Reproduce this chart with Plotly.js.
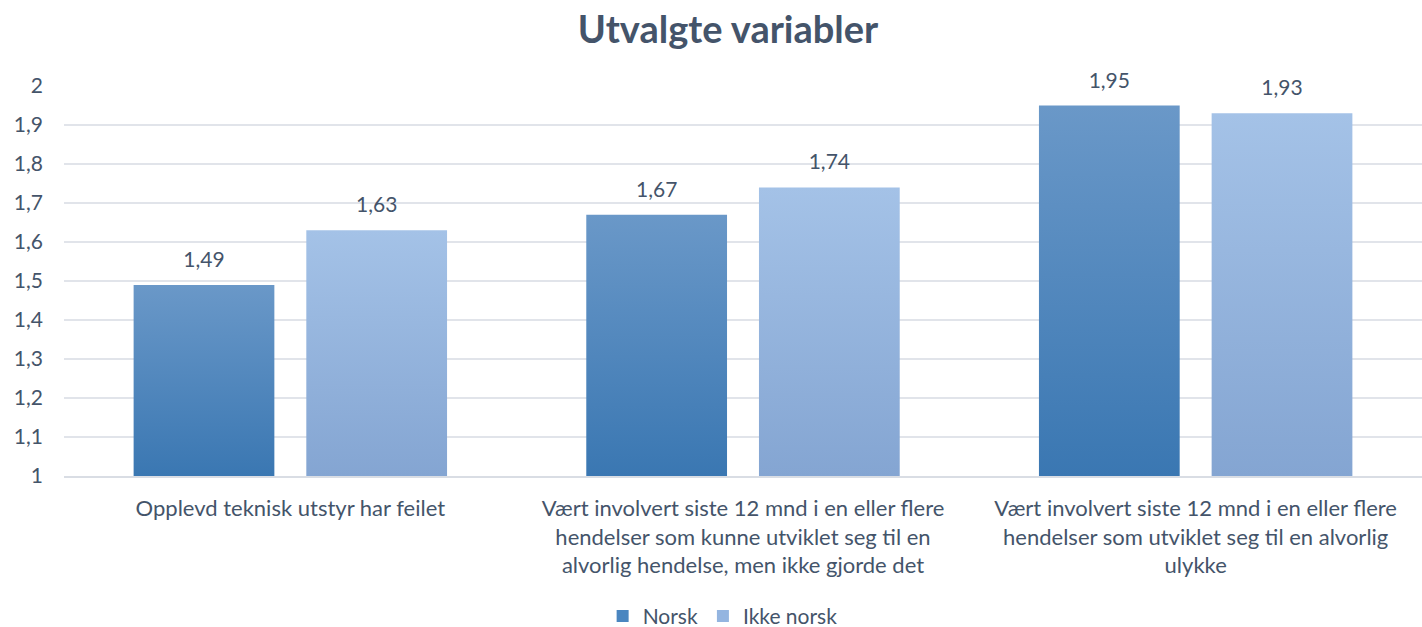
<!DOCTYPE html>
<html>
<head>
<meta charset="utf-8">
<script src="https://cdn.plot.ly/plotly-3.0.1.min.js"></script>
<style>html,body{margin:0;padding:0;background:#fff;}#chart{width:1422px;height:627px;}</style>
</head>
<body>
<div id="chart"></div>
<script>
const categories = [
  "Opplevd teknisk utstyr har feilet",
  "Vært involvert siste 12 mnd i en eller flere<br>hendelser som kunne utviklet seg til en<br>alvorlig hendelse, men ikke gjorde det",
  "Vært involvert siste 12 mnd i en eller flere<br>hendelser som utviklet seg til en alvorlig<br>ulykke"
];
const norsk = [1.49, 1.67, 1.95];
const ikkeNorsk = [1.63, 1.74, 1.93];
const seriesNames = ["Norsk", "Ikke norsk"];

const txt = "#44546A";
const fam = "Lato, 'Open Sans', sans-serif";

const traces = [
  {type: "bar", name: seriesNames[0], x: categories, y: norsk,
   marker: {color: "#4A86C0"}, texttemplate: "%{y:.2f}", textposition: "outside",
   textfont: {size: 21, color: txt}, cliponaxis: false, hoverinfo: "none"},
  {type: "bar", name: seriesNames[1], x: categories, y: ikkeNorsk,
   marker: {color: "#94B5E0"}, texttemplate: "%{y:.2f}", textposition: "outside",
   textfont: {size: 21, color: txt}, cliponaxis: false, hoverinfo: "none"}
];

const layout = {
  width: 1422, height: 627,
  margin: {l: 64, r: 0, t: 86, b: 151, autoexpand: false},
  separators: ", ",
  paper_bgcolor: "#fff", plot_bgcolor: "#fff",
  font: {family: fam, color: txt, size: 21},
  title: {text: "<b>Utvalgte variabler</b>", x: 0.512, xanchor: "center", y: 0.952, yanchor: "middle",
          font: {size: 38, color: txt, family: fam}},
  barmode: "group", bargap: 0.237, bargroupgap: 0.185,
  showlegend: true,
  legend: {orientation: "h", x: 0.485, xanchor: "center", y: -0.36, yanchor: "middle",
           font: {size: 21, color: txt}, traceorder: "normal", itemwidth: 30},
  xaxis: {type: "category", tickfont: {size: 22, color: txt}, showgrid: false, zeroline: false,
          showline: true, linecolor: "#d9dde4", linewidth: 1.5, ticks: "", automargin: false,
          ticklabelstandoff: 12},
  yaxis: {range: [1, 2], dtick: 0.1, tick0: 1, showgrid: true, gridcolor: "#e1e4ea", gridwidth: 1.5,
          zeroline: false, showline: false, ticks: "", tickfont: {size: 21, color: txt},
          ticklabelstandoff: 20, automargin: false}
};

Plotly.newPlot("chart", traces, layout, {displayModeBar: false, staticPlot: true}).then(function(gd){
  const svg = gd.querySelector("svg.main-svg");
  const ns = "http://www.w3.org/2000/svg";
  let defs = svg.querySelector("defs");
  if (!defs) { defs = document.createElementNS(ns, "defs"); svg.insertBefore(defs, svg.firstChild); }
  const plotH = gd._fullLayout.yaxis._length;
  const cols = [["#6A98C8", "#3A77B2"], ["#A4C2E7", "#84A5D2"]];
  let gid = 0;
  function makeGrad(c, y1, y2) {
    const id = "bg" + (gid++);
    const lg = document.createElementNS(ns, "linearGradient");
    lg.setAttribute("id", id); lg.setAttribute("gradientUnits", "userSpaceOnUse");
    lg.setAttribute("x1", "0"); lg.setAttribute("y1", String(y1));
    lg.setAttribute("x2", "0"); lg.setAttribute("y2", String(y2));
    const s1 = document.createElementNS(ns, "stop"); s1.setAttribute("offset", "0"); s1.setAttribute("stop-color", c[0]);
    const s2 = document.createElementNS(ns, "stop"); s2.setAttribute("offset", "1"); s2.setAttribute("stop-color", c[1]);
    lg.appendChild(s1); lg.appendChild(s2); defs.appendChild(lg);
    return id;
  }
  const traceGroups = gd.querySelectorAll(".barlayer .trace");
  traceGroups.forEach(function(tg, i){
    tg.querySelectorAll("path").forEach(function(p){
      const bb = p.getBBox();
      const top = bb.y;
      const bot = Math.min(bb.y + bb.height, plotH);
      const id = makeGrad(cols[i], top, bot);
      p.style.fill = "url(#" + id + ")";
    });
    tg.querySelectorAll("text").forEach(function(t){
      const tr = t.getAttribute("transform") || "";
      t.setAttribute("transform", "translate(0,-11) " + tr);
    });
  });
});
</script>
</body>
</html>
